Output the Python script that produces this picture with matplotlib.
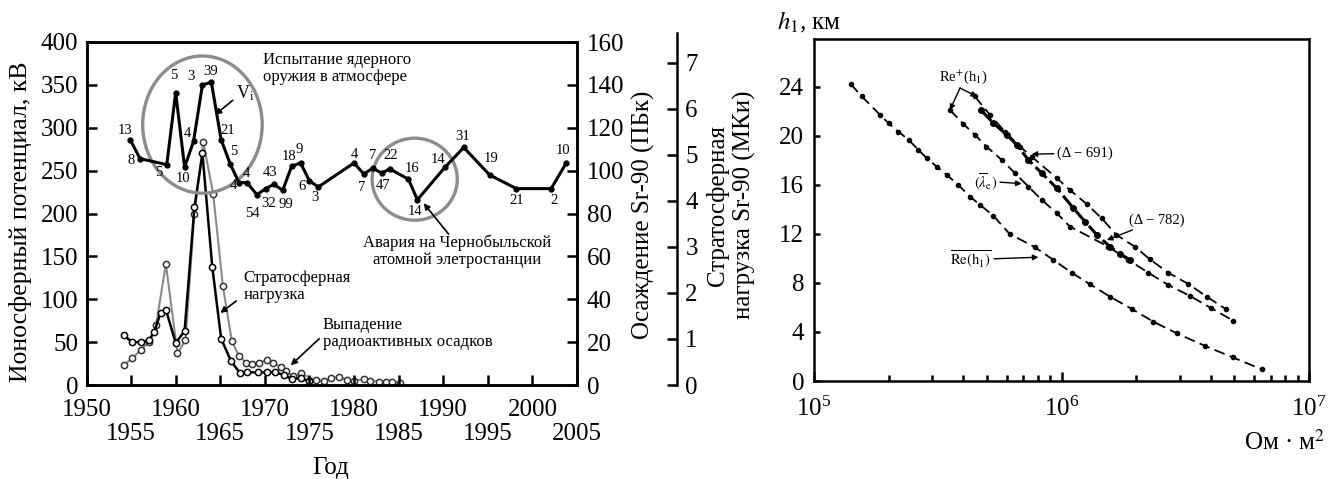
import matplotlib
matplotlib.use("Agg")
import matplotlib.pyplot as plt
from matplotlib.patches import Ellipse
from matplotlib.ticker import MultipleLocator, LogLocator, NullFormatter, FixedLocator

plt.rcParams['font.family'] = ['Liberation Serif', 'DejaVu Serif']
plt.rcParams['mathtext.fontset'] = 'stix'

# --- left panel data ---
vi_years = [1954.9, 1956.0, 1959.0, 1960.0, 1961.0, 1962.0, 1963.0, 1964.0, 1965.1, 1966.1,
            1967.1, 1968.0, 1969.1, 1970.1, 1971.0, 1972.0, 1973.0, 1974.0, 1975.0, 1976.0,
            1980.0, 1981.1, 1982.1, 1983.1, 1984.0, 1986.1, 1987.1, 1990.2, 1992.3, 1995.2,
            1998.2, 2002.1, 2003.8]
vi_kv = [286, 264, 257, 341, 254, 284, 350, 353, 286, 258,
         236, 236, 222, 229, 234, 227, 255, 259, 238, 231,
         259, 246, 253, 247, 252, 240, 216, 254, 277, 245,
         229, 229, 259]
vi_labels = ['13', '8', '5', '5', '10', '4', '3', '39', '21', '5',
             '4', '4', '54', '32', '43', '99', '18', '9', '6', '3',
             '4', '7', '7', '47', '22', '16', '14', '14', '31', '19',
             '21', '2', '10']
# label offsets in pixels (dx, dy up)
label_offsets = [(-5, 9), (-9, -2), (-8, -8), (-2, 17), (-2, -11), (-6, 8), (-11, 8), (-1, 11),
                 (7, 9), (4, 12), (-6, -3), (-1, 9), (-4, -19), (3, -15), (-4, 12), (3, -14),
                 (-3, 10), (-1, 13), (-7, -6), (-3, -11), (0, 8), (-2, -13), (0, 13), (1, -12),
                 (1, 13), (4, 11), (-2, -12), (-7, 8), (-1, 11), (1, 16), (0, -12), (3, -12),
                 (-3, 12)]

strat_years = [1954.2, 1955.1, 1956.1, 1957.0, 1957.6, 1958.3, 1958.9, 1960.0, 1961.0, 1962.1,
               1963.0, 1964.1, 1965.1, 1966.2, 1967.2, 1968.0, 1969.2, 1970.2, 1971.1, 1972.1,
               1973.0, 1974.0, 1975.0]
strat_pbq = [23.2, 20.0, 20.0, 20.8, 24.8, 33.6, 35.2, 19.6, 25.2, 82.8,
             108.0, 55.2, 21.6, 11.2, 5.6, 5.9, 5.9, 5.9, 5.9, 4.8,
             2.8, 3.2, 1.8]

dep_years = [1954.2, 1955.1, 1956.1, 1957.0, 1957.8, 1958.9, 1960.2, 1961.1, 1962.1, 1963.1,
             1964.2, 1965.3, 1966.3, 1967.1, 1967.9, 1968.6, 1969.3, 1970.2, 1970.9, 1971.8,
             1972.4, 1973.1, 1974.0, 1975.7, 1976.6, 1977.4, 1978.3, 1979.2, 1980.0, 1981.1,
             1981.8, 1982.8, 1983.6, 1984.3, 1985.1]
dep_pbq = [9.2, 12.4, 16.4, 20.0, 28.0, 56.4, 14.8, 20.8, 80.0, 113.2,
           89.2, 46.0, 20.4, 13.6, 10.4, 10.0, 10.4, 11.6, 10.4, 8.4,
           6.4, 4.0, 5.4, 2.3, 1.9, 3.1, 3.9, 2.3, 1.9, 2.8,
           2.0, 1.6, 1.6, 1.4, 1.1]

# --- right panel data (Ohm*m^2, km) ---
re_bar_x = [1.406e5, 1.560e5, 1.849e5, 2.000e5, 2.193e5, 2.410e5, 2.642e5, 2.851e5, 3.133e5,
            3.436e5, 3.828e5, 4.266e5, 4.688e5, 5.309e5, 6.17e5, 7.816e5, 9.268e5, 1.099e6,
            1.303e6, 1.570e6, 1.923e6, 2.350e6, 2.924e6, 3.802e6, 4.920e6, 6.442e6]
re_bar_h = [24.24, 23.21, 21.71, 21.03, 20.35, 19.67, 18.86, 18.18, 17.49,
            16.82, 16.00, 15.04, 14.37, 13.47, 12.0, 10.91, 9.88, 8.84,
            7.89, 6.88, 5.88, 4.84, 3.89, 2.86, 1.93, 0.95]
lam_x = [3.540e5, 4.009e5, 4.467e5, 4.977e5, 5.728e5, 6.486e5, 7.345e5, 8.318e5, 9.572e5,
         1.081e6, 1.545e6, 1.862e6, 2.239e6, 2.698e6, 3.304e6, 4.036e6, 4.943e6]
lam_h = [22.12, 20.98, 20.08, 19.13, 18.04, 16.96, 15.86, 14.78, 13.69,
         12.60, 10.96, 9.88, 8.84, 7.84, 6.94, 5.93, 4.92]
d691_x = [4.467e5, 5.140e5, 5.902e5, 6.792e5, 7.568e5, 9.572e5, 1.081e6, 1.262e6, 1.452e6,
          1.667e6, 1.977e6, 2.275e6, 2.698e6, 3.251e6, 3.864e6, 4.624e6]
d691_h = [23.21, 21.71, 20.35, 19.13, 18.31, 16.55, 15.59, 14.45, 13.28,
          11.92, 10.96, 9.93, 8.84, 7.92, 6.88, 5.85]
d782_x = [4.721e5, 5.309e5, 6.012e5, 6.592e5, 7.345e5, 8.318e5, 9.572e5, 1.117e6, 1.245e6,
          1.390e6, 1.570e6, 1.722e6, 1.892e6]
d782_h = [22.12, 21.03, 20.08, 19.27, 18.04, 16.96, 15.73, 14.10, 13.00,
          11.92, 10.96, 10.37, 9.88]

W, H = 1343, 479
fig = plt.figure(figsize=(W / 100, H / 100), dpi=100)

def fx(px):
    return px / W

def fy(py):
    return 1 - py / H

TICK = 18
SP = 1.8
NOTE = 12

# ---------------- left panel ----------------
ax1 = fig.add_axes([fx(86.5), fy(385), fx(577 - 86.5), (385 - 42) / H])
ax2 = ax1.twinx()

ax2.plot(dep_years, dep_pbq, '-o', color='#8a8a8a', lw=1.5, ms=4.5,
         mfc='white', mec='#333333', mew=1.1, zorder=2)
ax2.plot(strat_years, strat_pbq, '-o', color='black', lw=1.8, ms=4.5,
         mfc='white', mec='black', mew=1.1, zorder=3)
ax2.set_ylim(0, 160)

ax1.set_zorder(ax2.get_zorder() + 1)
ax1.patch.set_visible(False)
ax1.plot(vi_years, vi_kv, '-o', color='black', lw=2.2, ms=3.5, zorder=4)
for yr, v, lab, (dx, dy) in zip(vi_years, vi_kv, vi_labels, label_offsets):
    ax1.annotate(lab, (yr, v), xytext=(dx * 0.72, dy * 0.72), textcoords='offset points',
                 ha='center', va='center', fontsize=10.5)

ax1.add_patch(Ellipse((1963.0, 303.7), 13.4, 160, fill=False, ec='#8c8c8c', lw=2.4, zorder=1))
ax1.add_patch(Ellipse((1986.8, 240.0), 9.55, 95.6, fill=False, ec='#8c8c8c', lw=2.4, zorder=1))

arr = dict(arrowstyle='-|>', color='black', lw=1.2, shrinkA=0, shrinkB=0, mutation_scale=9)
ax1.text(1969.8, 369, 'Испытание ядерного\nоружия в атмосфере', fontsize=NOTE,
         ha='left', va='center', linespacing=1.15)
ax1.text(1966.8, 340, 'V$_{\\rm i}$', fontsize=13, ha='left', va='center')
ax1.annotate('', xy=(1964.4, 315), xytext=(1966.4, 332), arrowprops=arr)
ax1.text(1991.6, 156, 'Авария на Чернобыльской\nатомной элетростанции', fontsize=NOTE,
         ha='center', va='center', linespacing=1.1)
ax1.annotate('', xy=(1987.8, 212), xytext=(1990.6, 176), arrowprops=arr)
ax1.text(1967.6, 115, 'Стратосферная\nнагрузка', fontsize=NOTE, ha='left', va='center',
         linespacing=1.1)
ax1.annotate('', xy=(1965.0, 84), xytext=(1966.8, 98), arrowprops=arr)
ax1.text(1976.5, 60, 'Выпадение\nрадиоактивных осадков', fontsize=NOTE, ha='left', va='center',
         linespacing=1.1)
ax1.annotate('', xy=(1972.9, 23), xytext=(1976.1, 54), arrowprops=arr)

ax1.set_xlim(1950, 2005)
ax1.set_ylim(0, 400)
ax1.xaxis.set_major_locator(FixedLocator([1950, 1960, 1970, 1980, 1990, 2000]))
ax1.xaxis.set_minor_locator(FixedLocator([1955, 1965, 1975, 1985, 1995, 2005]))
ax1.xaxis.set_minor_formatter(plt.FuncFormatter(lambda v, p: '%d' % v))
ax1.yaxis.set_major_locator(MultipleLocator(50))
ax1.tick_params(axis='x', which='major', direction='in', length=7, width=SP, labelsize=TICK, pad=10)
ax1.tick_params(axis='x', which='minor', direction='in', length=7, width=SP, labelsize=TICK, pad=27)
ax1.tick_params(axis='y', direction='in', length=7.5, width=SP, labelsize=TICK, pad=6)
ax2.yaxis.set_major_locator(MultipleLocator(20))
ax2.tick_params(axis='y', direction='in', length=7.5, width=SP, labelsize=TICK, pad=7)
for a in (ax1, ax2):
    for s in a.spines.values():
        s.set_linewidth(SP)

# third axis (MCi)
ax3 = fig.add_axes([fx(677) - 0.0001, fy(385), 0.0001, (385 - 33) / H])
ax3.set_ylim(0, 7.65)
ax3.set_xticks([])
for k in ('left', 'top', 'bottom'):
    ax3.spines[k].set_visible(False)
ax3.spines['right'].set_linewidth(SP)
ax3.yaxis.tick_right()
ax3.yaxis.set_major_locator(MultipleLocator(1))
ax3.tick_params(axis='y', direction='in', length=7, width=SP, labelsize=TICK, pad=6)
ax3.patch.set_visible(False)

fig.text(fx(21), fy(222), 'Ионосферный потенциал, кВ', rotation=90, ha='center', va='center',
         fontsize=18.5)
fig.text(fx(643), fy(215), 'Осаждение Sr-90 (ПБк)', rotation=90, ha='center', va='center',
         fontsize=18)
fig.text(fx(731), fy(205), 'Стратосферная\nнагрузка Sr-90 (МКи)', rotation=90, ha='center',
         va='center', fontsize=18, linespacing=1.2)
fig.text(fx(331), fy(468), 'Год', ha='center', va='center', fontsize=18)

# ---------------- right panel ----------------
axr = fig.add_axes([fx(814), fy(381), fx(1309 - 814), (381 - 39) / H])
dash = (0, (6, 3))
axr.plot(re_bar_x, re_bar_h, color='black', ls=dash, lw=1.3, marker='o', ms=3)
axr.plot(lam_x, lam_h, color='black', ls=dash, lw=1.3, marker='o', ms=3)
axr.plot(d691_x, d691_h, color='black', ls=dash, lw=1.3, marker='o', ms=3)
axr.plot(d782_x, d782_h, color='black', ls=(0, (5, 1.5)), lw=2.2, marker='o', ms=4)
axr.set_xscale('log')
axr.set_xlim(1e5, 1e7)
axr.set_ylim(0, 27.9)
axr.yaxis.set_major_locator(MultipleLocator(4))
axr.xaxis.set_major_locator(LogLocator(base=10))
axr.xaxis.set_minor_locator(LogLocator(base=10, subs=range(2, 10)))
axr.xaxis.set_minor_formatter(NullFormatter())
axr.tick_params(axis='y', direction='in', length=4.5, width=SP, labelsize=TICK, pad=7)
axr.tick_params(axis='x', which='major', direction='in', length=6.5, width=SP, labelsize=TICK, pad=11)
axr.tick_params(axis='x', which='minor', direction='in', length=4, width=SP)
for s in axr.spines.values():
    s.set_linewidth(SP)

arrow = dict(arrowstyle='-|>', color='black', lw=1.0, shrinkA=0, shrinkB=0, mutation_scale=8)
axr.text(4.0e5, 24.8, 'Re$^{+}$(h$_1$)', fontsize=10.5, ha='center', va='center')
axr.annotate('', xy=(3.54e5, 22.1), xytext=(3.89e5, 23.9), arrowprops=arrow)
axr.annotate('', xy=(4.56e5, 23.2), xytext=(3.89e5, 23.9), arrowprops=arrow)
axr.annotate('(Δ − 691)', xy=(7.57e5, 18.5), xytext=(9.55e5, 18.6), fontsize=10.5,
             ha='left', va='center', arrowprops=arrow)
axr.annotate('$(\\overline{\\lambda}_{\\rm e})$', xy=(6.9e5, 16.1), xytext=(5.5e5, 16.3),
             fontsize=10.5, ha='right', va='center', arrowprops=arrow)
axr.annotate('(Δ − 782)', xy=(1.525e6, 11.5), xytext=(1.87e6, 13.1), fontsize=10.5,
             ha='left', va='center', arrowprops=arrow)
axr.annotate('$\\overline{\\rm Re(h_1)}$', xy=(8.07e5, 10.1), xytext=(5.2e5, 9.9),
             fontsize=10.5, ha='right', va='center', arrowprops=arrow)

fig.text(fx(777), fy(22), '$h_1$, км', ha='left', va='center', fontsize=18)
fig.text(fx(1325), fy(442), 'Ом · м$^2$', ha='right', va='center', fontsize=18)

fig.savefig('out.png', dpi=100)
